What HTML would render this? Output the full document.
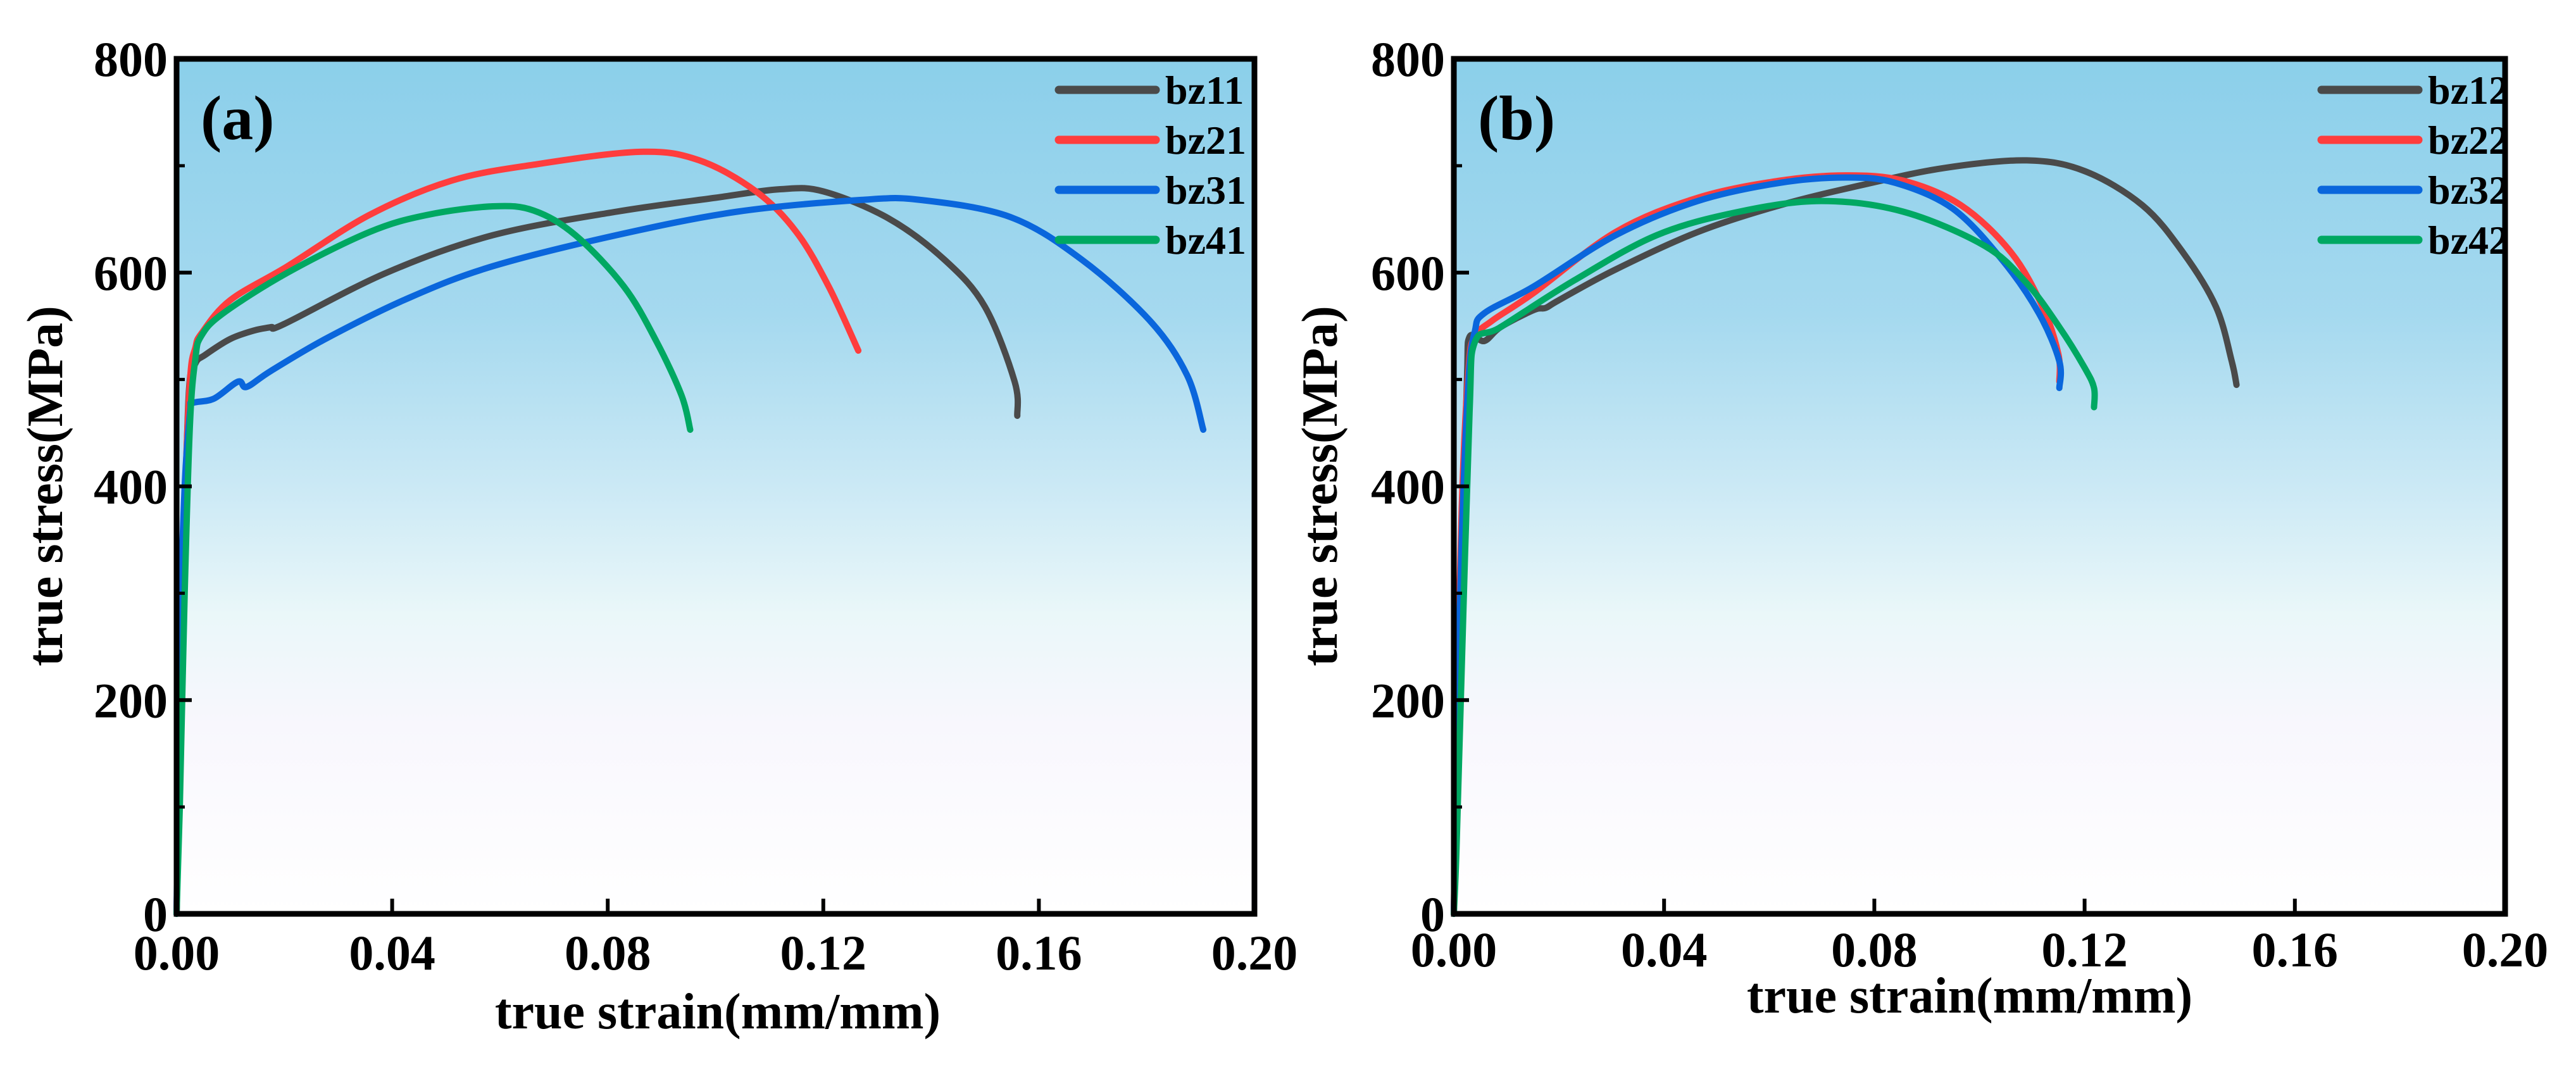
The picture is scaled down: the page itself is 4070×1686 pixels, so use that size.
<!DOCTYPE html>
<html><head><meta charset="utf-8"><style>
html,body{margin:0;padding:0;background:#fff}
svg text{font-family:"Liberation Serif",serif;font-weight:bold;fill:#000}
</style></head><body>
<svg id="fig" width="4070" height="1681" viewBox="0 0 4070 1681" xmlns="http://www.w3.org/2000/svg">
<defs>
<linearGradient id="bg" x1="0" y1="0" x2="0" y2="1">
<stop offset="0" stop-color="#8bcfea"/>
<stop offset="0.3" stop-color="#a5d9ef"/>
<stop offset="0.5" stop-color="#cbe9f5"/>
<stop offset="0.65" stop-color="#eaf7f9"/>
<stop offset="0.78" stop-color="#f8f7fd"/>
<stop offset="1" stop-color="#ffffff"/>
</linearGradient>
</defs>
</svg>
<script>
const xTicks=[0,0.04,0.08,0.12,0.16,0.20];
const xTickLabels=["0.00","0.04","0.08","0.12","0.16","0.20"];
const yTicks=[0,200,400,600,800];
const yTickLabels=["0","200","400","600","800"];
const yMinorTicks=[100,300,500,700];
const namesA=["bz11","bz21","bz31","bz41"];
const namesB=["bz12","bz22","bz32","bz42"];
const colors=["#4a4a4a","#ff3d3d","#0a66dc","#00a862"];
// panel a
const bz11x=[0,0.0006,0.0015,0.0023,0.0035,0.0053,0.01,0.0145,0.0175,0.02,0.039,0.0587,0.0816,0.1,0.112,0.12,0.132,0.1425,0.15,0.1555,0.156];
const bz11y=[0,160,360,490,515,523,538,546,549,552,600,635,657,670,678,676,651,612,568,498,466];
const bz21x=[0,0.0006,0.0015,0.0025,0.0035,0.0046,0.0099,0.0206,0.0358,0.051,0.0663,0.086,0.097,0.1075,0.115,0.121,0.1265];
const bz21y=[0,170,380,500,530,543,574,606,654,686,701,713,705,676,638,587,527];
const bz31x=[0,0.0006,0.0015,0.0025,0.003,0.0069,0.0114,0.013,0.0175,0.028,0.0434,0.0587,0.0816,0.104,0.127,0.138,0.1547,0.168,0.1806,0.1875,0.1905];
const bz31y=[0,250,400,470,478,482,498,493,508,539,577,606,635,657,668,668,652,612,555,504,453];
const bz41x=[0,0.0006,0.0015,0.0025,0.0035,0.0045,0.0084,0.0206,0.0358,0.0465,0.0587,0.0663,0.074,0.083,0.089,0.0937,0.0953];
const bz41y=[0,100,300,460,520,540,561,600,638,654,662,658,635,587,536,485,453];
// panel b
const bz12x=[0,0.0005,0.0015,0.0025,0.003,0.0058,0.0089,0.0152,0.0175,0.0199,0.0308,0.0464,0.062,0.0777,0.0934,0.109,0.12,0.131,0.1387,0.145,0.148,0.1489];
const bz12y=[0,120,330,500,540,536,549,565,567,574,603,638,663,682,698,705,695,663,619,568,517,495];
const bz22x=[0,0.0005,0.0015,0.0028,0.004,0.0073,0.0152,0.0308,0.0464,0.062,0.0746,0.0855,0.0965,0.106,0.112,0.115,0.1152];
const bz22y=[0,170,380,510,540,555,581,638,670,686,691,686,663,619,568,524,498];
const bz32x=[0,0.0005,0.0015,0.0028,0.004,0.0058,0.0152,0.0308,0.0464,0.062,0.0746,0.084,0.0949,0.1043,0.1113,0.1152,0.1152];
const bz32y=[0,150,350,500,545,562,587,635,667,684,689,684,660,612,562,517,492];
const bz42x=[0,0.0005,0.0015,0.003,0.004,0.0089,0.023,0.0386,0.0543,0.0699,0.0855,0.101,0.109,0.1152,0.12,0.1218,0.1218];
const bz42y=[0,60,230,470,535,549,593,635,657,667,657,625,590,549,511,492,474];

const NS="http://www.w3.org/2000/svg";
const svg=document.getElementById('fig');
function mk(tag,attrs,parent){const e=document.createElementNS(NS,tag);for(const k in attrs)e.setAttribute(k,attrs[k]);(parent||svg).appendChild(e);return e;}
function smoothPath(pts){
  let d='M'+pts[0][0].toFixed(1)+','+pts[0][1].toFixed(1);
  for(let i=0;i<pts.length-1;i++){
    const p0=pts[Math.max(0,i-1)],p1=pts[i],p2=pts[i+1],p3=pts[Math.min(pts.length-1,i+2)];
    const t=1/6;
    const c1=[p1[0]+(p2[0]-p0[0])*t,p1[1]+(p2[1]-p0[1])*t];
    const c2=[p2[0]-(p3[0]-p1[0])*t,p2[1]-(p3[1]-p1[1])*t];
    d+='C'+c1[0].toFixed(1)+','+c1[1].toFixed(1)+' '+c2[0].toFixed(1)+','+c2[1].toFixed(1)+' '+p2[0].toFixed(1)+','+p2[1].toFixed(1);
  }
  return d;
}

function panel(p){
  const g=mk('g',{});
  
  
  const X=v=>p.x0+(v-0)/(0.2)*(p.x1-p.x0);
  const Y=v=>p.y1-(v/800)*(p.y1-p.y0);
  const bg=mk('rect',{x:p.x0,y:p.y0,width:p.x1-p.x0,height:p.y1-p.y0,fill:'url(#bg)'},g);
  
  
  p.series.forEach((s,i)=>{
    const pts=s.x.map((v,k)=>[X(v),Y(s.y[k])]);
    const path=mk('path',{d:smoothPath(pts),fill:'none',stroke:colors[i],'stroke-width':10,'stroke-linejoin':'round','stroke-linecap':'round'},g);
    
    
  });
  xTicks.forEach((t,i)=>{
    if(i>0&&i<xTicks.length-1){mk('line',{x1:X(t),x2:X(t),y1:p.y1,y2:p.y1-24,stroke:'#000','stroke-width':6},g);}
    const tx=mk('text',{x:X(t),y:p.y1+p.xl,'font-size':78,'text-anchor':'middle'},g);
    tx.textContent=xTickLabels[i];
    
    
  });
  yTicks.forEach((t,i)=>{
    if(i>0&&i<yTicks.length-1){mk('line',{x1:p.x0,x2:p.x0+24,y1:Y(t),y2:Y(t),stroke:'#000','stroke-width':6},g);}
    const ty=mk('text',{x:p.x0-14,y:Y(t)+27,'font-size':78,'text-anchor':'end'},g);
    ty.textContent=yTickLabels[i];
    
    
  });
  yMinorTicks.forEach(t=>{mk('line',{x1:p.x0,x2:p.x0+13,y1:Y(t),y2:Y(t),stroke:'#000','stroke-width':5},g);});
  const fr=mk('rect',{x:p.x0,y:p.y0,width:p.x1-p.x0,height:p.y1-p.y0,fill:'none',stroke:'#000','stroke-width':9},g);
  
  
  const xt=mk('text',{x:p.xtx,y:p.xty,'font-size':80,'text-anchor':'middle'},g);
  xt.textContent='true strain(mm/mm)';
  
  
  const yt=mk('text',{x:0,y:0,'font-size':80,'text-anchor':'middle',transform:'translate('+p.ytx+',768) rotate(-90)'},g);
  yt.textContent='true stress(MPa)';
  
  
  const lab=mk('text',{x:p.x0+38,y:220,'font-size':100},g);
  lab.textContent=p.label;
  
  
  p.names.forEach((n,i)=>{
    const ly=142+i*79;
    const lg=mk('g',{},g);
    
    
    mk('line',{x1:p.lx,x2:p.lx+153,y1:ly,y2:ly,stroke:colors[i],'stroke-width':13,'stroke-linecap':'round'},lg);
    const lt=mk('text',{x:p.lx+168,y:ly+22,'font-size':64},lg);
    lt.textContent=n;
  });
}
panel({id:'panel-a',label:'(a)',x0:279,x1:1982,y0:93,y1:1444,xl:88,xtx:1134,xty:1625,ytx:98,lx:1673,names:namesA,
  series:[{x:bz11x,y:bz11y},{x:bz21x,y:bz21y},{x:bz31x,y:bz31y},{x:bz41x,y:bz41y}]});
panel({id:'panel-b',label:'(b)',x0:2297,x1:3958,y0:93,y1:1444,xl:83,xtx:3112,xty:1600,ytx:2112,lx:3668,names:namesB,
  series:[{x:bz12x,y:bz12y},{x:bz22x,y:bz22y},{x:bz32x,y:bz32y},{x:bz42x,y:bz42y}]});
</script>
</body></html>
